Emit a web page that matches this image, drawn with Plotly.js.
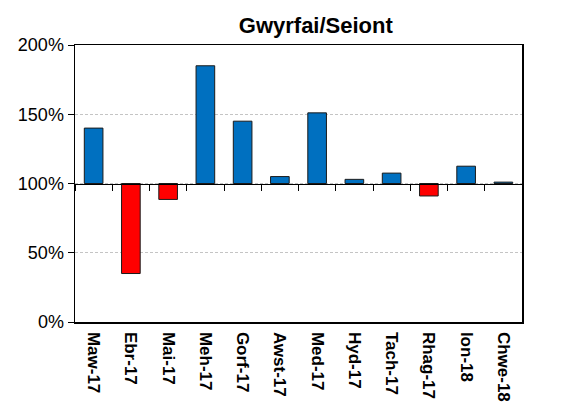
<!DOCTYPE html>
<html>
<head>
<meta charset="utf-8">
<script src="https://cdn.plot.ly/plotly-3.0.1.min.js"></script>
<style>html,body{margin:0;padding:0;background:#fff;}#chart{width:581px;height:409px;}</style>
</head>
<body>
<div id="chart"></div>
<script>
// Data (percent values; bars drawn from the 100% baseline)
const months = ["Maw-17","Ebr-17","Mai-17","Meh-17","Gorf-17","Awst-17","Med-17","Hyd-17","Tach-17","Rhag-17","Ion-18","Chwe-18"];
const percent = [140, 35, 88.5, 185, 145, 105, 151, 103, 107.5, 91, 112.5, 101];
const baselinePct = 100;
const yTickVals = [0, 0.5, 1, 1.5, 2];

const ratio = percent.map(v => v / 100);
const base = baselinePct / 100;
const colors = ratio.map(r => r >= base ? "#0070C0" : "#FF0000");

const font = "Liberation Sans, Arial, sans-serif";

const traces = [
  {
    type: "bar",
    x: months,
    y: ratio.map(r => r - base),
    base: ratio.map(() => base),
    width: 0.5,
    marker: { color: colors, line: { color: "#1a1a1a", width: 1 } },
    hoverinfo: "x",
    showlegend: false
  },
  {
    type: "scatter",
    mode: "markers",
    x: months,
    y: ratio.map(() => base),
    xaxis: "x2",
    marker: { opacity: 0 },
    hoverinfo: "skip",
    showlegend: false
  }
];

const layout = {
  width: 581,
  height: 409,
  margin: { l: 75, r: 59, t: 45, b: 87 },
  paper_bgcolor: "#ffffff",
  plot_bgcolor: "#ffffff",
  font: { family: font, color: "#000" },
  title: {
    text: "<b>Gwyrfai/Seiont</b>",
    font: { family: font, size: 22, color: "#000" },
    x: 313 / 581,
    xanchor: "center",
    xref: "paper",
    y: 1 - 25 / 409,
    yanchor: "middle"
  },
  xaxis: {
    type: "category",
    range: [-0.5, months.length - 0.5],
    showline: true,
    mirror: true,
    linecolor: "#000",
    linewidth: 1.5,
    ticks: "outside",
    ticklen: 5,
    tickcolor: "rgba(0,0,0,0)",
    tickangle: 90,
    tickfont: { family: font, size: 17, color: "#000", weight: "bold" },
    showgrid: false,
    zeroline: false,
    fixedrange: true
  },
  xaxis2: {
    type: "category",
    overlaying: "x",
    anchor: "free",
    position: 0.5,
    side: "bottom",
    range: [-0.5, months.length - 0.5],
    showline: true,
    linecolor: "#000",
    linewidth: 1,
    ticks: "outside",
    ticklen: 6,
    tickcolor: "#000",
    tickson: "boundaries",
    showticklabels: false,
    showgrid: false,
    zeroline: false
  },
  yaxis: {
    range: [0, 2],
    tickvals: yTickVals,
    tickformat: ".0%",
    ticks: "outside",
    ticklen: 6,
    tickcolor: "#000",
    tickfont: { family: font, size: 18, color: "#000" },
    showline: true,
    mirror: true,
    linecolor: "#000",
    linewidth: 1.5,
    showgrid: true,
    gridcolor: "#c4c4c4",
    griddash: "3px,2px",
    gridwidth: 1,
    zeroline: false,
    fixedrange: true
  },
  bargap: 0.5
};

Plotly.newPlot("chart", traces, layout, { displayModeBar: false, staticPlot: true });
</script>
</body>
</html>
